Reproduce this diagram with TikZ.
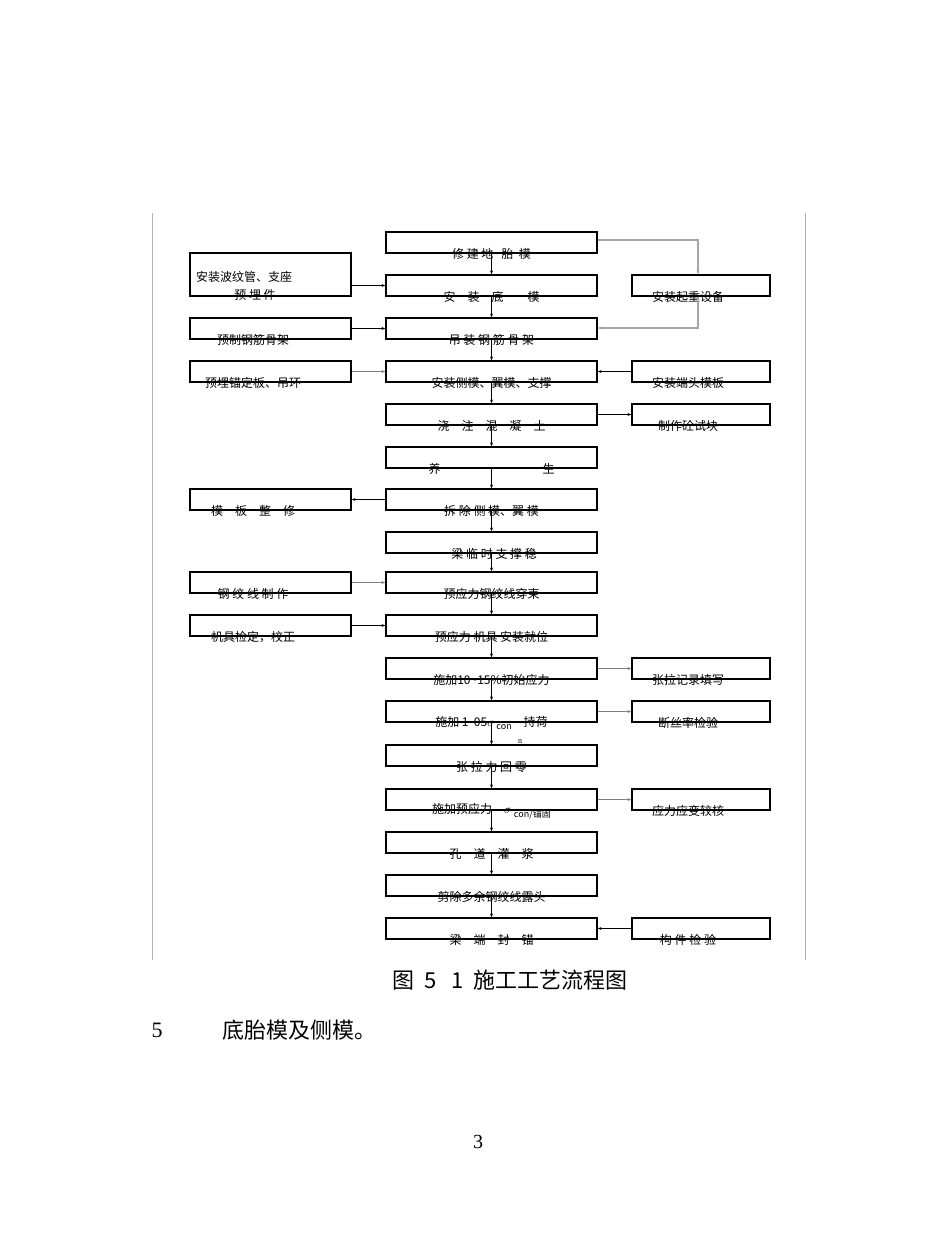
\documentclass[tikz,border=0pt]{standalone}
\usepackage{fontspec}
\setmainfont{Liberation Serif}
\newfontfamily\cjk{Noto Sans CJK SC}
\usetikzlibrary{arrows.meta}
\begin{document}
\begin{tikzpicture}[x=1pt,y=-1pt,
  bx/.style={draw,line width=1.2pt},
  lbl/.style={font=\cjk\fontsize{12}{13}\selectfont,inner sep=0pt},
  ar/.style={line width=0.9pt,-{Stealth[length=4pt,width=3pt]}},
  gar/.style={line width=1.6pt,draw=gray!70,-{Stealth[length=4pt,width=3pt]}}]
\useasboundingbox (0,0) rectangle (950,1250);
\draw[gray!60,line width=0.8pt] (152,213) -- (152,960) (805,213) -- (805,960);
% main column
\foreach \n/\t/\b/\s in {
 m1/232/253/{修\ 建\ 地\ \ \ 胎\ \ 模},
 m2/275/296/{安\quad 装\quad 底\qquad 模},
 m3/318/339/{吊\ 装\ 钢\ 筋\ 骨\ 架},
 m4/361/382/{安装侧模、翼模、支撑},
 m5/404/425/{浇\quad 注\quad 混\quad 凝\quad 土},
 m6/447/468/{养\hspace{8.5em}生},
 m7/489/510/{拆\ 除\ 侧\ 模、翼\ 模},
 m8/532/553/{\ \ 梁\ 临\ 时\ 支\ 撑\ 稳},
 m9/572/593/{预应力钢绞线穿束},
 m10/615/636/{预应力\ 机具\ 安装就位},
 m11/658/679/{施加10\textasciitilde15\%初始应力},
 m12/701/722/{施加\ 1\ \ 05$\sigma$\,\raisebox{-0.5ex}{\fontsize{9}{9}\selectfont con}\quad 持荷},
 m13/745/766/{张\ 拉\ 力\ 回\ 零},
 m14/789/810/{施加预应力\quad $\sigma$\ \raisebox{-0.6ex}{\fontsize{9}{9}\selectfont con/锚固}},
 m15/832/853/{孔\quad 道\quad 灌\quad 浆},
 m16/875/896/{剪除多余钢绞线露头},
 m17/918/939/{梁\quad 端\quad 封\quad 锚}}
{\node[bx,minimum width=211,minimum height=\b-\t,inner sep=0pt] (\n) at (491.5,{(\t+\b)/2}) {};
 \node[lbl] (\n t) at (491.5,\b+1) {\s};}
\draw[line width=2.4pt] (386,832) -- (597,832);
\node[font=\fontsize{8}{8}\selectfont,inner sep=0pt] (nn) at (520,742) {n};
\foreach \a/\b in {m1/m2,m2/m3,m3/m4,m4/m5,m5/m6,m6/m7,m7/m8,m8/m9,m9/m10,m10/m11,m11/m12,m12/m13,m13/m14,m14/m15,m15/m16,m16/m17}
 \draw[ar] (\a.south) -- (\b.north);
% left boxes
\tikzset{lb/.style={bx,minimum width=161,inner sep=0pt}}
\node[lb,minimum height=43] (l2) at (270.5,274.5) {};
\node[lbl,anchor=west] (l2a) at (196,277) {安装波纹管、支座};
\node[lbl] (l2b) at (255,295) {预\ 埋\ 件};
\foreach \n/\t/\b/\s in {l3/318/339/{预制钢筋骨架}, l4/361/382/{预埋锚定板、吊环}, l7/489/510/{模\quad 板\quad 整\quad 修}, l9/572/593/{钢\ 绞\ 线\ 制\ 作}, l10/615/636/{机具检定，校正}}
{\node[lb,minimum height=\b-\t] (\n) at (270.5,{(\t+\b)/2}) {};
 \node[lbl] (\n t) at (253,\b+1) {\s};}
% right boxes
\tikzset{rb/.style={bx,minimum width=138,inner sep=0pt,minimum height=21}}
\foreach \n/\y/\s in {r2/285.5/{安装起重设备}, r4/371.5/{安装端头模板}, r5/414.5/{制作砼试块}, r11/668.5/{张拉记录填写}, r12/711.5/{断丝率检验}, r14/799.5/{应力应变较核}, r17/928.5/{构\ 件\ 检\ 验}}
{\node[rb] (\n) at (701,\y) {};
 \node[lbl] (\n t) at (688,\y+11.5) {\s};}
% horizontal connectors
\draw[ar] (l2.east |- m2.east) -- (m2.west);
\draw[ar] (l3) -- (m3);
\draw[ar,draw=gray] (l4) -- (m4);
\draw[ar] (m7) -- (l7);
\draw[ar,draw=gray] (l9) -- (m9);
\draw[ar] (l10) -- (m10);
\draw[ar] (r4) -- (m4);
\draw[ar] (m5) -- (r5);
\draw[ar,draw=gray] (m11) -- (r11);
\draw[ar,draw=gray] (m12) -- (r12);
\draw[ar,draw=gray] (m14) -- (r14);
\draw[ar] (r17) -- (m17);
\coordinate (g1) at (698,240);
\coordinate (g2) at (698,328);
\draw[gar] (m1.east |- g1) -- (g1) -- (r2.north -| g1);
\draw[gar] (r2.south -| g2) -- (g2) -- (m3.east |- g2);
% captions
\node[font=\cjk\fontsize{22}{24}\selectfont,inner sep=0pt] (cap) at (510,980) {图\ \ 5\ \ \ 1\ \ 施工工艺流程图};
\node[font=\fontsize{22}{24}\selectfont,inner sep=0pt] (s5) at (157,1030) {5};
\node[font=\cjk\fontsize{22}{24}\selectfont,inner sep=0pt,anchor=west] (s5t) at (222,1030) {底胎模及侧模。};
\node[font=\fontsize{20}{22}\selectfont,inner sep=0pt] (pg) at (478,1142) {3};
\end{tikzpicture}
\end{document}
